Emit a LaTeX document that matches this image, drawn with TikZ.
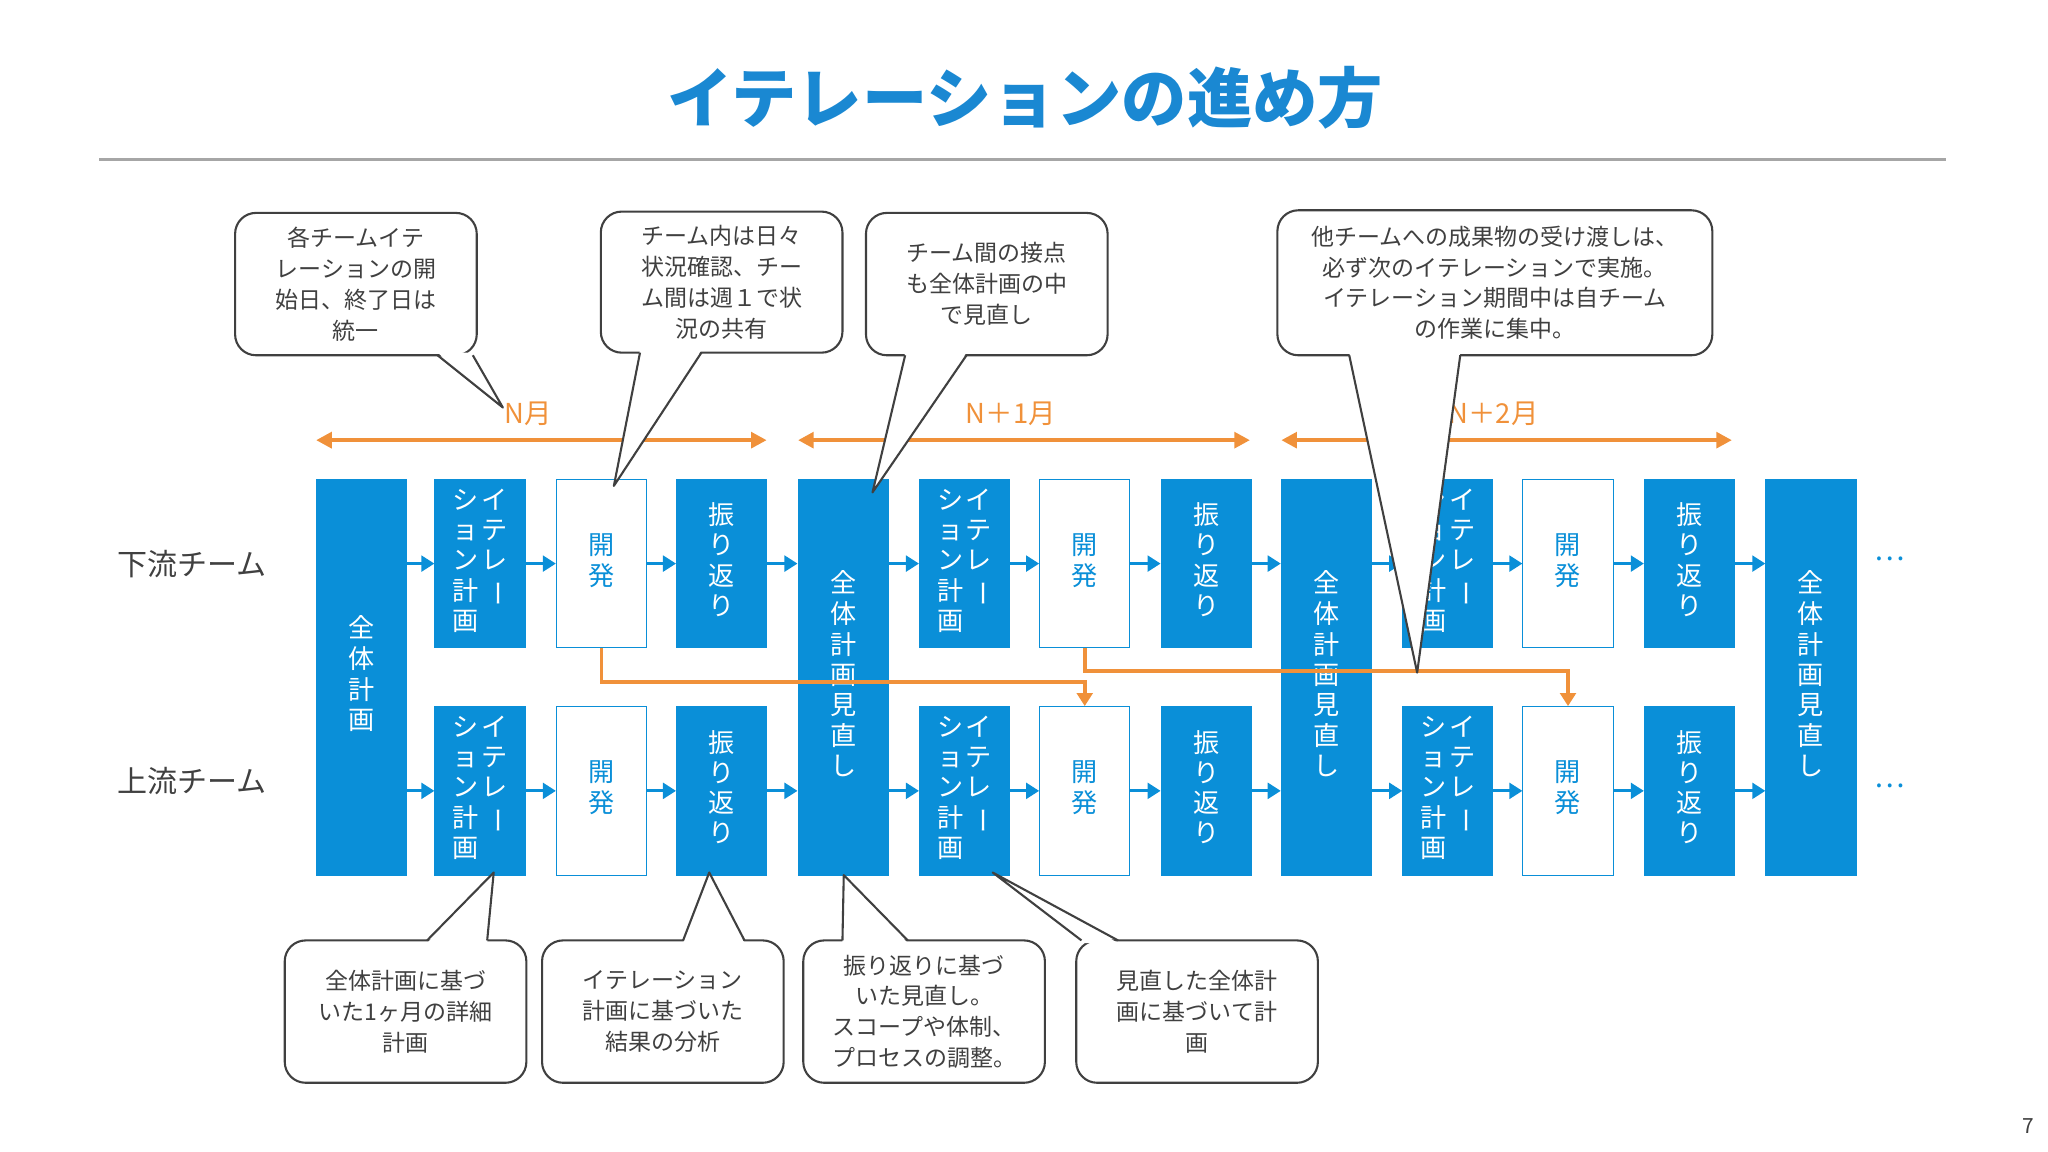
\documentclass[tikz,border=0pt]{standalone}
\usepackage{fontspec}
\setmainfont{Noto Sans CJK JP}
\usetikzlibrary{arrows.meta}
\definecolor{bl}{HTML}{0A8FD8}
\definecolor{tb}{HTML}{1A88D2}
\definecolor{og}{HTML}{F0913A}
\definecolor{tx}{HTML}{404040}
\newcommand{\vc}[1]{\begin{tabular}[t]{@{}c@{}}#1\end{tabular}}
\newcommand{\vb}{\rotatebox[origin=c]{-90}{ー}}
\newcommand{\itr}{\vc{シ\\ョ\\ン\\計\\画}\hspace{1pt}\vc{イ\\テ\\レ\\\vb}}
\newcommand{\co}[6]{% x1 y1 x2 y2 name text
  \node[call,minimum width={(#3-#1)*0.5pt},minimum height={(#4-#2)*0.5pt}] (#5) at ({(#1+#3)/2},{(#2+#4)/2}) {#6};}
\newcommand{\ptr}[5]{% base a, base b, tip, y-edge dir
  \fill[white] (#1,#4) -- (#2,#4) -- (#3) -- cycle;
  \draw[tx,line width=0.8pt,line join=round] (#1,#5) -- (#3) -- (#2,#5);}
\begin{document}
\begin{tikzpicture}[x=0.5pt,y=-0.5pt,
  blk/.style={fill=bl,draw=bl,text=white,minimum width=34.5pt,minimum height=64.5pt,inner sep=0pt,font=\fontsize{10}{11.5}\selectfont,align=center},
  dev/.style={blk,fill=white,text=bl},
  tall/.style={blk,minimum height=151.5pt},
  call/.style={draw=tx,line width=0.8pt,fill=white,rounded corners=8pt,text=tx,font=\fontsize{8.8}{11.8}\selectfont,align=center,inner sep=0pt},
  ba/.style={-{Triangle[length=5pt,width=6pt]},bl,line width=1.2pt},
  oa/.style={og,line width=1.5pt},
]
\useasboundingbox (0,0) rectangle (1568,882);
\node[text=tb,font=\fontsize{25}{30}\selectfont\bfseries] (title) at (785,75) {イテレーションの進め方};
\draw[gray!70,line width=1pt] (76,122) -- (1490,122);
\node[font=\fontsize{11.5}{14}\selectfont,text=tx] (lt) at (147,432) {下流チーム};
\node[font=\fontsize{11.5}{14}\selectfont,text=tx] (lb) at (147,598) {上流チーム};
% tall blocks
\node[tall] (c0) at (276.5,518.5) {\vc{全\\体\\計\\画}};
\foreach \n/\x in {c4/645.5,c8/1015.5,c12/1386.5}
  \node[tall] (\n) at (\x,518.5) {\vc{全\\体\\計\\画\\見\\直\\し}};
% row blocks
\foreach \r/\y in {t/431.5,b/605.5}{
  \foreach \i/\x in {1/367.5,5/738.5,9/1108.5} \node[blk] (\r\i) at (\x,\y) {\itr};
  \foreach \i/\x in {2/460.5,6/830.5,10/1200.5} \node[dev] (\r\i) at (\x,\y) {\vc{開\\発}};
  \foreach \i/\x in {3/552.5,7/923.5,11/1293.5} \node[blk] (\r\i) at (\x,\y) {\vc{振\\り\\返\\り}};
}
% blue arrows
\foreach \r/\y in {t/431.5,b/605.5}{
  \draw[ba] (c0.east|-0,\y) -- (\r1);
  \draw[ba] (\r1) -- (\r2); \draw[ba] (\r2) -- (\r3); \draw[ba] (\r3) -- (c4.west|-0,\y);
  \draw[ba] (c4.east|-0,\y) -- (\r5);
  \draw[ba] (\r5) -- (\r6); \draw[ba] (\r6) -- (\r7); \draw[ba] (\r7) -- (c8.west|-0,\y);
  \draw[ba] (c8.east|-0,\y) -- (\r9);
  \draw[ba] (\r9) -- (\r10); \draw[ba] (\r10) -- (\r11); \draw[ba] (\r11) -- (c12.west|-0,\y);
}
\node[text=bl,font=\fontsize{11}{12}\selectfont] (d1) at (1447,428) {…};
\node[text=bl,font=\fontsize{11}{12}\selectfont] (d2) at (1447,602) {…};
% month arrows
\foreach \a/\b/\l/\n in {242/587/N月/m0,611/957/N＋1月/m1,981/1326/N＋2月/m2}{
  \coordinate (\n a) at (\a,337); \coordinate (\n b) at (\b,337);
  \draw[oa,{Triangle[length=6pt,width=6pt]}-{Triangle[length=6pt,width=6pt]}] (\n a) -- (\n b);
  \node[text=og,font=\fontsize{10.5}{12}\selectfont] (\n l) at ({(\a+\b)/2-10},317) {\l};
}
% orange handoffs
\draw[oa,-{Triangle[length=5pt,width=6pt]}] (t2.south) -- ++(0,26) -| (b6.north);
\draw[oa,-{Triangle[length=5pt,width=6pt]}] (t6.south) -- ++(0,17) -| (b10.north);
% callouts top
\co{180}{163}{365}{272}{k1}{各チームイテ\\レーションの開\\始日、終了日は\\統一}
\ptr{335}{362}{385,312}{270}{272}
\co{460}{162}{645}{270}{k2}{チーム内は日々\\状況確認、チー\\ム間は週１で状\\況の共有}
\ptr{490}{537}{470,372}{268}{270}
\co{663}{163}{848}{272}{k3}{チーム間の接点\\も全体計画の中\\で見直し}
\ptr{693}{740}{668,377}{270}{272}
\co{978}{161}{1311}{272}{k4}{他チームへの成果物の受け渡しは、\\必ず次のイテレーションで実施。\\イテレーション期間中は自チーム\\の作業に集中。}
\ptr{1033}{1118}{1085,515}{270}{272}
% callouts bottom
\co{218}{720}{403}{829}{k5}{全体計画に基づ\\いた1ヶ月の詳細\\計画}
\ptr{327}{373}{378,668}{722}{720}
\co{415}{720}{600}{829}{k6}{イテレーション\\計画に基づいた\\結果の分析}
\ptr{523}{570}{543,668}{722}{720}
\co{615}{720}{800}{829}{k7}{振り返りに基づ\\いた見直し。\\スコープや体制、\\プロセスの調整。}
\ptr{645}{695}{646,670}{722}{720}
\co{824}{720}{1009}{829}{k8}{見直した全体計\\画に基づいて計\\画}
\ptr{828}{856}{760,668}{722}{720}
\node[text=tx,font=\fontsize{8}{10}\selectfont] (pg) at (1553,862) {7};
\end{tikzpicture}
\end{document}
